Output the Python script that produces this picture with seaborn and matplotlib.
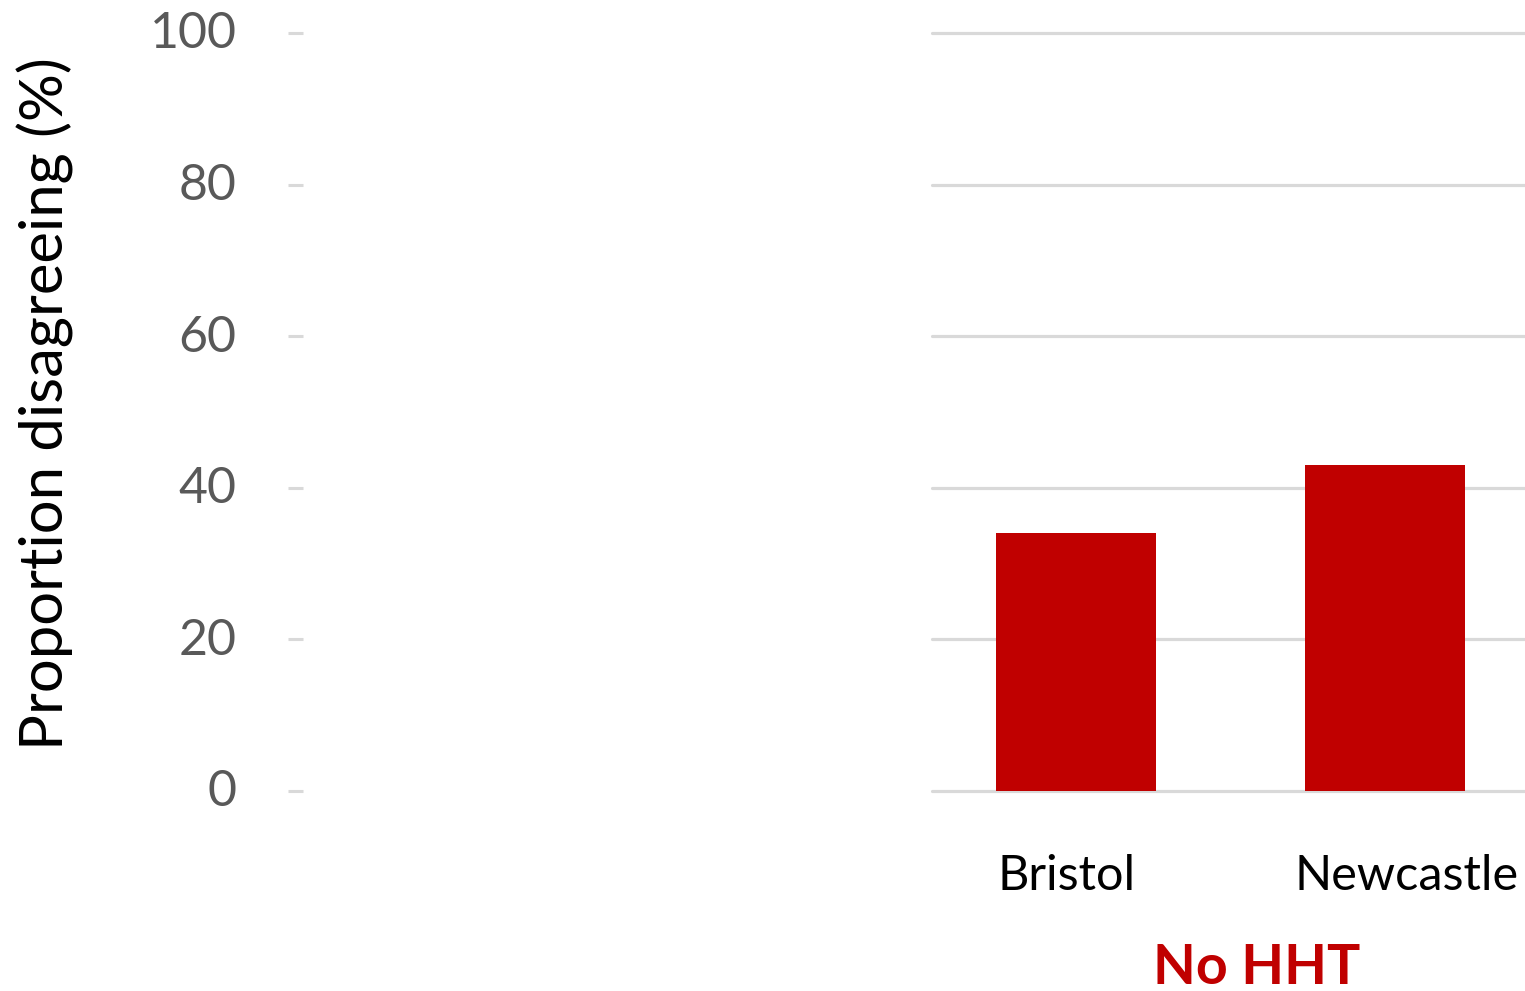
import matplotlib
matplotlib.use("Agg")
import matplotlib.pyplot as plt
import matplotlib.transforms as mtransforms
import seaborn as sns
import pandas as pd

# ---- data ----
cities = ["Bristol", "Newcastle"]
proportion_disagreeing = [34, 43]
y_ticks = [0, 20, 40, 60, 80, 100]
group_label = "No HHT"
y_label = "Proportion disagreeing (%)"

sns.set_style("white")
plt.rcParams["font.family"] = ["Lato", "DejaVu Sans"]

RED = "#C00000"
GRID = "#D9D9D9"
TICKTXT = "#595959"

W, H = 1525, 991
fig = plt.figure(figsize=(W / 100, H / 100), dpi=100)

bottom = 1 - 791 / H
height = (791 - 33) / H

# main plot area
ax = fig.add_axes([932 / W, bottom, 593 / W, height])
df = pd.DataFrame({"city": cities, "value": proportion_disagreeing})
sns.barplot(data=df, x="city", y="value", color=RED, saturation=1,
            width=0.518, ax=ax, zorder=3)
for p in ax.patches:
    p.set_edgecolor("none")
ax.set_ylim(0, 100)
ax.set_xlim(-0.466, 1.453)
ax.set_yticks(y_ticks)
ax.set_yticklabels([])
ax.tick_params(axis="y", length=0)
ax.tick_params(axis="x", length=0, labelsize=35, pad=45, labelcolor="black")
ax.set_axisbelow(True)
ax.grid(True, axis="y", color=GRID, linewidth=2.3, clip_on=False)
ax.grid(False, axis="x")
for s in ax.spines.values():
    s.set_visible(False)
ax.set_ylabel("")
ax.set_xlabel(group_label, fontsize=40, fontweight="bold", color=RED)
ax.xaxis.set_label_coords((1257 - 932) / 593, -0.2)

# nudge category labels to match reference positions
offsets_px = [-9, 22]
for lbl, dx in zip(ax.get_xticklabels(), offsets_px):
    lbl.set_transform(lbl.get_transform() +
                      mtransforms.ScaledTranslation(dx / 100, 0, fig.dpi_scale_trans))

# left value axis with short tick marks
axl = fig.add_axes([288 / W, bottom, 1 / W, height])
axl.set_ylim(0, 100)
axl.set_yticks(y_ticks)
axl.set_yticklabels([str(t) for t in y_ticks])
axl.set_xticks([])
for s in axl.spines.values():
    s.set_visible(False)
axl.patch.set_alpha(0)
axl.tick_params(axis="y", left=True, direction="in", length=10.8, width=2.2,
                color=GRID, labelsize=36, labelcolor=TICKTXT, pad=37)
for lbl in axl.get_yticklabels():
    lbl.set_transform(lbl.get_transform() +
                      mtransforms.ScaledTranslation(0, 3 / 100, fig.dpi_scale_trans))
axl.set_ylabel(y_label, fontsize=43, color="black")
axl.yaxis.set_label_coords(74 / W, 1 - 404 / H, transform=fig.transFigure)

fig.savefig("out.png", dpi=100, facecolor="white")
